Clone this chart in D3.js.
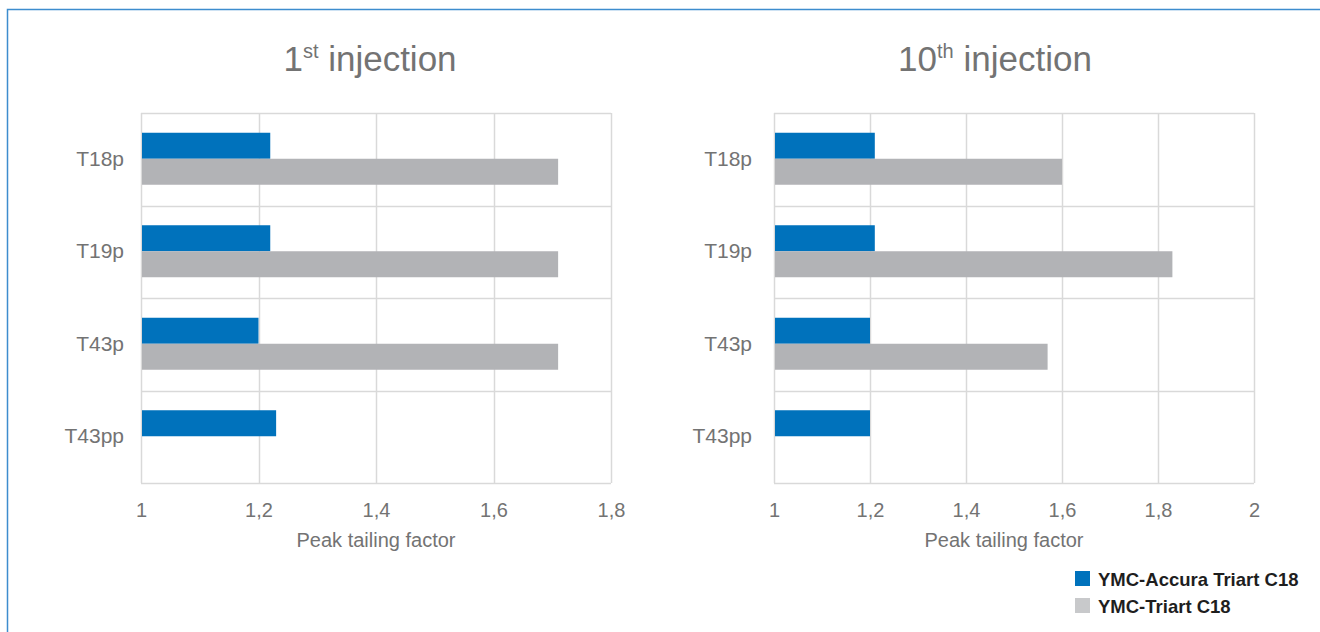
<!DOCTYPE html>
<html>
<head>
<meta charset="utf-8">
<script src="https://cdn.jsdelivr.net/npm/d3@7"></script>
<style>
  html, body { margin: 0; padding: 0; background: #fff; }
  svg { display: block; font-family: "Liberation Sans", Arial, sans-serif; }
</style>
</head>
<body>
<svg id="chart" width="1320" height="632"></svg>
<script>
const categories = ['T18p', 'T19p', 'T43p', 'T43pp']
const seriesNames = ['YMC-Accura Triart C18', 'YMC-Triart C18']

// 1st injection
const accura1 = [1.22, 1.22, 1.20, 1.23]
const triart1 = [1.71, 1.71, 1.71, null]
// 10th injection
const accura10 = [1.21, 1.21, 1.20, 1.20]
const triart10 = [1.60, 1.83, 1.57, null]

const ticks1 = [1, 1.2, 1.4, 1.6, 1.8]
const ticks10 = [1, 1.2, 1.4, 1.6, 1.8, 2]

const BLUE = '#0072bc'
const GRAY = '#b2b3b6'
const GRID = '#d9d9d9'
const TEXT = '#737373'

const svg = d3.select('#chart')

// outer frame
svg.append('path')
  .attr('d', 'M7.5,632 V9.5 H1320')
  .attr('fill', 'none')
  .attr('stroke', '#3d8dce')
  .attr('stroke-width', 1.5)

const fmt = (d) => String(d).replace('.', ',')

function drawPanel(opts) {
  const { left, right, top, bottom, domain, ticks, accura, triart, ordinal, suffix, titleX, labelGap, axisTitleX } = opts
  const g = svg.append('g')

  const x = d3.scaleLinear().domain(domain).range([left, right])
  const y = d3.scaleBand().domain(categories).range([top, bottom])

  // title
  const title = g.append('text')
    .attr('x', titleX)
    .attr('y', 71)
    .attr('text-anchor', 'middle')
    .attr('fill', TEXT)
    .style('font-size', '35px')
  title.append('tspan').text(ordinal)
  title.append('tspan').attr('dy', -13).style('font-size', '20px').text(suffix)
  title.append('tspan').attr('dy', 13).text(' injection')

  // vertical grid
  g.selectAll('line.vgrid').data(ticks).enter().append('line')
    .attr('class', 'vgrid')
    .attr('x1', (d) => Math.round(x(d)) + 0.5)
    .attr('x2', (d) => Math.round(x(d)) + 0.5)
    .attr('y1', top).attr('y2', bottom)
    .attr('stroke', GRID).attr('stroke-width', 1.5)

  // horizontal band lines
  const hLines = categories.map((c) => y(c)).concat([bottom])
  g.selectAll('line.hgrid').data(hLines).enter().append('line')
    .attr('class', 'hgrid')
    .attr('x1', left).attr('x2', right)
    .attr('y1', (d) => Math.round(d) + 0.5)
    .attr('y2', (d) => Math.round(d) + 0.5)
    .attr('stroke', GRID).attr('stroke-width', 1.5)

  const barH = 26
  const mid = (c) => y(c) + y.bandwidth() / 2 - 0.5

  g.selectAll('rect.acc').data(categories).enter().append('rect')
    .attr('class', 'acc')
    .attr('x', x(domain[0]) + 1)
    .attr('y', (c) => mid(c) - barH)
    .attr('width', (c, i) => x(accura[i]) - x(domain[0]) - 1)
    .attr('height', barH)
    .attr('fill', BLUE)

  g.selectAll('rect.tri').data(categories.filter((c, i) => triart[i] != null)).enter().append('rect')
    .attr('class', 'tri')
    .attr('x', x(domain[0]) + 1)
    .attr('y', (c) => mid(c))
    .attr('width', (c) => x(triart[categories.indexOf(c)]) - x(domain[0]) - 1)
    .attr('height', barH)
    .attr('fill', GRAY)

  // category labels
  g.selectAll('text.cat').data(categories).enter().append('text')
    .attr('class', 'cat')
    .attr('x', left - labelGap)
    .attr('y', (c) => mid(c) + 7)
    .attr('text-anchor', 'end')
    .attr('fill', TEXT)
    .style('font-size', '21px')
    .text((c) => c)

  // x axis
  const axis = d3.axisBottom(x).tickValues(ticks).tickSize(0).tickPadding(20).tickFormat(fmt)
  const ax = g.append('g').attr('transform', `translate(0,${bottom})`).call(axis)
  ax.select('.domain').remove()
  ax.selectAll('text').attr('fill', TEXT).style('font-size', '20px')
    .style('font-family', '"Liberation Sans", Arial, sans-serif')

  g.append('text')
    .attr('x', axisTitleX)
    .attr('y', 547)
    .attr('text-anchor', 'middle')
    .attr('fill', TEXT)
    .style('font-size', '20px')
    .text('Peak tailing factor')
}

drawPanel({ left: 141, right: 611, top: 113, bottom: 483, domain: [1, 1.8], ticks: ticks1,
  accura: accura1, triart: triart1, ordinal: '1', suffix: 'st', titleX: 370, labelGap: 17, axisTitleX: 376 })
drawPanel({ left: 774, right: 1254, top: 113, bottom: 483, domain: [1, 2], ticks: ticks10,
  accura: accura10, triart: triart10, ordinal: '10', suffix: 'th', titleX: 995, labelGap: 22, axisTitleX: 1004 })

// legend
const legendColors = [BLUE, '#c8c9cb']
const legend = svg.append('g').attr('transform', 'translate(1075,571)')
legend.selectAll('rect').data(seriesNames).enter().append('rect')
  .attr('x', 0).attr('y', (d, i) => i * 27)
  .attr('width', 15).attr('height', 15)
  .attr('fill', (d, i) => legendColors[i])
legend.selectAll('text').data(seriesNames).enter().append('text')
  .attr('x', 23).attr('y', (d, i) => i * 27 + 15)
  .attr('fill', '#1e1e1e')
  .style('font-size', '18.5px')
  .style('font-weight', 'bold')
  .text((d) => d)
</script>
</body>
</html>
